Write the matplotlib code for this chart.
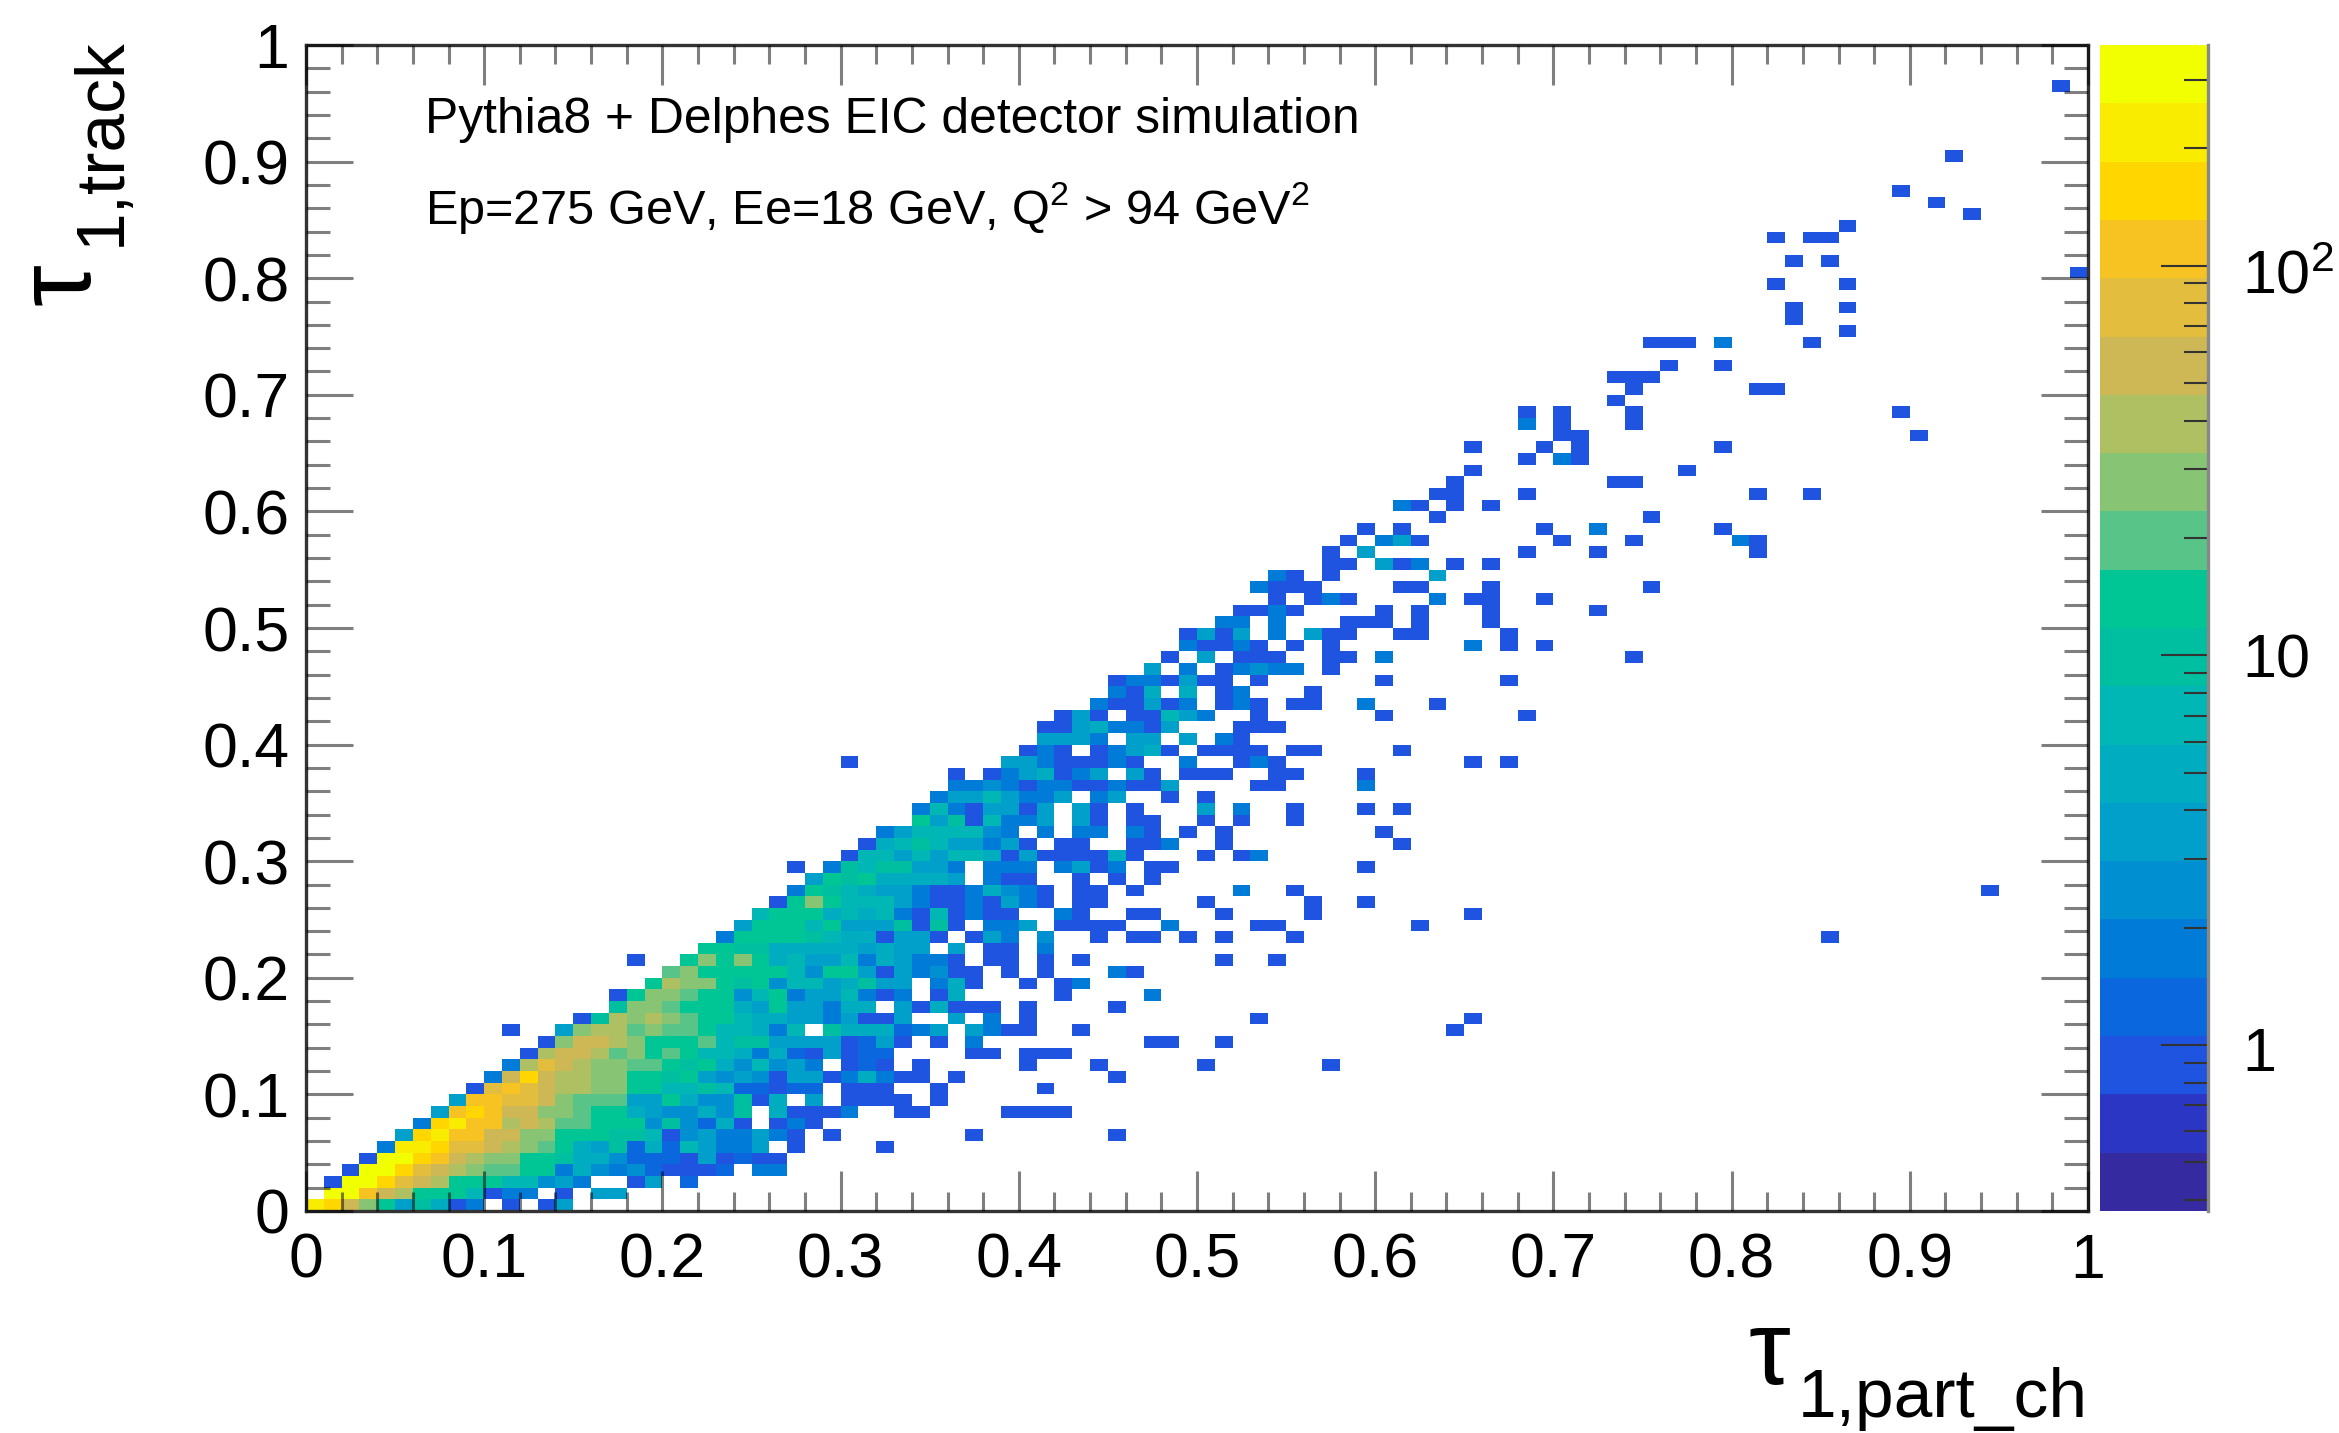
import numpy as np
import matplotlib
matplotlib.use('Agg')
import matplotlib.pyplot as plt
from matplotlib.colors import ListedColormap, LogNorm
from matplotlib.ticker import MultipleLocator

plt.rcParams['font.family'] = ['Liberation Sans', 'DejaVu Sans']
plt.rcParams['mathtext.fontset'] = 'custom'
plt.rcParams['mathtext.rm'] = 'Liberation Sans'
plt.rcParams['mathtext.default'] = 'rm'

W, H = 2339, 1433

# colour bands of the palette, bottom to top
band_colors = ['#352a9f', '#2b37c4', '#1f54e0', '#0b67dd', '#007cd8', '#008fd1', '#00a0cb',
               '#00acbf', '#00b7b5', '#00bfa0', '#00c594', '#58c488', '#87c575', '#aec062',
               '#cdb855', '#e3bd3d', '#f6c323', '#ffd600', '#f9ec00', '#f1ff00']
# count read for a cell of each band
band_counts = [0.45, 0.63, 1, 1.25, 2, 2.5, 3.5, 5, 7, 10, 14, 20, 28, 39, 55, 78, 110, 155, 220, 310]
z_min = 0.375
z_max = 368

# (y bin, first x bin, band of each bin in base 20, '.' = empty)
cells = [
    (0, 0, "iheca69724.2.26"),
    (1, 1, "jjgedaaa8244.2.66"),
    (2, 1, "2jjhfedaaa88564..26.3"),
    (3, 2, "2jjhfedcbbaa4754532223.44"),
    (4, 3, "2jjhgedccaa9775333262322"),
    (5, 4, "4iihffedcba76937386446.2"), (5, 32, "2"),
    (6, 5, "6higgeeccaaa99825644642.2"), (6, 37, "2"), (6, 45, "2"),
    (7, 6, "4higgdedbbaaa595372.242"),
    (8, 7, "6ghgeeccbaa7655759.72224"), (8, 33, "22"), (8, 39, "2222"),
    (9, 8, "6ggffecbbb66a755927.6.2222.2"),
    (10, 9, "2fgfeddccaa889833233.222..2"), (10, 41, "2"),
    (11, 10, "4eheddccaa9a6565266247422.2"), (11, 45, "2"),
    (12, 11, "4dfedccbba9a758564.232.2"), (12, 40, "2"), (12, 44, "2"), (12, 50, "2"), (12, 57, "2"),
    (13, 12, "2deedbcaba88747326233"), (13, 37, "22.222"),
    (14, 13, "2ceedcaaab89966662362.2.4"), (14, 47, "22"), (14, 51, "2"),
    (15, 11, "2"), (15, 14, "6cddbcbba88748.9777346.6422..2"), (15, 64, "2"),
    (16, 15, "29dcdcbaa8776646226..6.4.2"), (16, 53, "2"), (16, 65, "2"),
    (17, 17, "9ccbaaa76a66477.627222.2"), (17, 45, "2"),
    (18, 17, "2accbaa58a4668424.27"), (18, 42, "2"), (18, 47, "4"),
    (19, 19, "adcca9a58867966.472"), (19, 40, "2.24"),
    (20, 20, "bcaaaaa85aa6264522.2.2"), (20, 45, "42"),
    (21, 18, "2"), (21, 21, "acaca78668476442.22.2.2"), (21, 51, "2"), (21, 54, "2"),
    (22, 22, "aa99777776766.6.22.4"),
    (23, 23, "4aaaa98772662.264.5..2.22.2"), (23, 51, "2"), (23, 55, "2"), (23, 85, "2"),
    (24, 24, "6aaa8a6669292.446.2222..4"), (24, 53, "22"), (24, 62, "2"),
    (25, 25, "8aaa78784282422..42..22"), (25, 51, "2"), (25, 56, "2"), (25, 65, "2"),
    (26, 26, "2aca888642242642.22"), (26, 50, "2"), (26, 56, "2"), (26, 59, "2"),
    (27, 27, "4a9876642247542.22.2"), (27, 52, "4"), (27, 55, "2"), (27, 94, "2"),
    (28, 28, "6a9a77776.422..2.2.2"),
    (29, 27, "2"), (29, 29, "49899664.444.4624.22"), (29, 59, "2"),
    (30, 30, "28868688726222272"), (30, 50, "2"), (30, 52, "24"),
    (31, 31, "2789866462.22..224"), (31, 51, "2"), (31, 61, "2"),
    (32, 32, "46888854.4.44.42.2"), (32, 51, "2"), (32, 60, "2"),
    (33, 34, "a6928446.62.22..2"), (33, 52, "2"), (33, 55, "2"),
    (34, 34, "48426626.62.2...6"), (34, 52, "4"), (34, 55, "2"), (34, 59, "2"), (34, 61, "2"),
    (35, 35, "46686446.46..2.2"),
    (36, 36, "4454244224226"), (36, 53, "22"), (36, 59, "4"),
    (37, 36, "2"), (37, 38, "2467246.62.222"), (37, 54, "22"), (37, 59, "2"),
    (38, 30, "2"), (38, 39, "66422242..4"), (38, 52, "242"), (38, 65, "2"), (38, 67, "2"),
    (39, 40, "242.24672.2222.22"), (39, 61, "2"),
    (40, 41, "6664.66.6.42"),
    (41, 41, "22674426...222"),
    (42, 42, "262.22864"), (42, 53, "2"), (42, 60, "2"), (42, 68, "2"),
    (43, 44, "422624.242.22"), (43, 59, "4"), (43, 63, "2"),
    (44, 45, "427.7.24"), (44, 56, "2"),
    (45, 45, "2442622.2"), (45, 60, "2"), (45, 67, "2"),
    (46, 47, "6.4.24544.2"),
    (47, 48, "2.6.222..22.4"), (47, 74, "2"),
    (48, 49, "42242.2.2"), (48, 65, "4"), (48, 67, "2"), (48, 69, "2"),
    (49, 49, "2626.4.622..22"), (49, 67, "2"),
    (50, 51, "44.4...222.2...2"),
    (51, 52, "2242"), (51, 60, "2"), (51, 62, "2"), (51, 66, "2"), (51, 72, "2"),
    (52, 54, "2.242"), (52, 63, "4"), (52, 65, "22"), (52, 69, "2"),
    (53, 53, "4222"), (53, 61, "22"), (53, 66, "2"), (53, 75, "2"),
    (54, 54, "42"), (54, 57, "2"), (54, 63, "6"),
    (55, 57, "22"), (55, 60, "624"), (55, 64, "2"), (55, 66, "2"),
    (56, 57, "2"), (56, 59, "6"), (56, 68, "2"), (56, 72, "2"), (56, 81, "2"),
    (57, 58, "2"), (57, 60, "462"), (57, 70, "2"), (57, 74, "2"), (57, 80, "42"),
    (58, 59, "2"), (58, 61, "2"), (58, 69, "2"), (58, 72, "4"), (58, 79, "2"),
    (59, 63, "2"), (59, 75, "2"),
    (60, 61, "42"), (60, 64, "2"), (60, 66, "2"),
    (61, 63, "22"), (61, 68, "2"), (61, 81, "2"), (61, 84, "2"),
    (62, 64, "2"), (62, 73, "22"),
    (63, 65, "2"), (63, 77, "2"),
    (64, 68, "2"), (64, 70, "42"),
    (65, 65, "2"), (65, 69, "2"), (65, 71, "2"), (65, 79, "2"),
    (66, 70, "22"), (66, 90, "2"),
    (67, 68, "4"), (67, 70, "2"), (67, 74, "2"),
    (68, 68, "2"), (68, 70, "2"), (68, 74, "2"), (68, 89, "2"),
    (69, 73, "2"),
    (70, 74, "2"), (70, 81, "22"),
    (71, 73, "222"),
    (72, 76, "2"), (72, 79, "2"),
    (74, 75, "222"), (74, 79, "4"), (74, 84, "2"),
    (75, 86, "2"),
    (76, 83, "2"),
    (77, 83, "2"), (77, 86, "2"),
    (79, 82, "2"), (79, 86, "2"),
    (80, 99, "2"),
    (81, 83, "2"), (81, 85, "2"),
    (83, 82, "2"), (83, 84, "22"),
    (84, 86, "2"),
    (85, 93, "2"),
    (86, 91, "2"),
    (87, 89, "2"),
    (90, 92, "2"),
    (96, 98, "2"),
]

tick_values = [0, 0.1, 0.2, 0.3, 0.4, 0.5, 0.6, 0.7, 0.8, 0.9, 1]
tick_labels = ['0', '0.1', '0.2', '0.3', '0.4', '0.5', '0.6', '0.7', '0.8', '0.9', '1']

counts = np.full((100, 100), np.nan)
for row, col, levels in cells:
    for k, c in enumerate(levels):
        if c != '.':
            counts[row, col + k] = band_counts[int(c, 20)]

fig = plt.figure(figsize=(W / 100, H / 100), dpi=100)
ax = fig.add_axes([306 / W, 1 - 1211 / H, (2088 - 306) / W, (1211 - 45) / H])
cax = fig.add_axes([2100 / W, 1 - 1211 / H, (2208 - 2100) / W, (1211 - 45) / H])

edges = np.linspace(0, 1, 101)
cmap = ListedColormap(band_colors)
mesh = ax.pcolormesh(edges, edges, np.ma.masked_invalid(counts), cmap=cmap,
                     norm=LogNorm(vmin=z_min, vmax=z_max), antialiased=False)

ax.set_xlim(0, 1)
ax.set_ylim(0, 1)
ax.set_axisbelow(False)
ax.set_xticks(tick_values, tick_labels)
ax.set_yticks(tick_values, tick_labels)
ax.xaxis.set_minor_locator(MultipleLocator(0.02))
ax.yaxis.set_minor_locator(MultipleLocator(0.02))
grey = (0, 0, 0, 0.5)
ax.tick_params(axis='x', which='major', direction='in', top=True, length=29, width=2.2, color=grey,
               labelsize=45, pad=15)
ax.tick_params(axis='x', which='minor', direction='in', top=True, length=14, width=2.2, color=grey)
ax.tick_params(axis='y', which='major', direction='in', right=True, length=34, width=2.2, color=grey,
               labelsize=45, pad=12)
ax.tick_params(axis='y', which='minor', direction='in', right=True, length=17, width=2.2, color=grey)
for s in ax.spines.values():
    s.set_linewidth(2.4)
    s.set_color('#333333')

cb = fig.colorbar(mesh, cax=cax)
cb.outline.set_visible(False)
cb.set_ticks([1, 10, 100], labels=['', '', ''])
cb.set_ticks([0.4, 0.5, 0.6, 0.7, 0.8, 0.9, 2, 3, 4, 5, 6, 7, 8, 9,
              20, 30, 40, 50, 60, 70, 80, 90, 200, 300], minor=True)
cax.tick_params(axis='y', which='major', direction='in', length=34, width=1.5, color='#333333')
cax.tick_params(axis='y', which='minor', direction='in', length=17, width=1.5, color='#333333',
                labelright=False)
cax.spines['right'].set_visible(True)
cax.spines['right'].set_linewidth(2.4)
cax.spines['right'].set_color('#888888')

# annotations, placed in pixels of the figure
def put(x, y, s, size, **kw):
    fig.text(x / W, 1 - y / H, s, fontsize=size, **kw)

put(2242, 1071, '1', 44, va='baseline')
put(2242, 678, '10', 44, va='baseline')
put(2242, 293, '$10^{2}$', 44, va='baseline')

put(425, 133, 'Pythia8 + Delphes EIC detector simulation', 35.8, va='baseline')
put(425, 224, 'Ep=275 GeV, Ee=18 GeV, Q$^{2}$ > 94 GeV$^{2}$', 35, va='baseline')

put(1748, 1384, '\u03c4', 76, va='baseline')
put(2088, 1417, '1,part_ch', 50, va='baseline', ha='right')

put(90, 305, '\u03c4', 76, rotation=90, va='baseline', ha='left', rotation_mode='anchor')
put(120, 246, '1,track', 50, rotation=90, va='baseline', ha='left', rotation_mode='anchor')

fig.savefig('out.png', dpi=100, facecolor='white')
